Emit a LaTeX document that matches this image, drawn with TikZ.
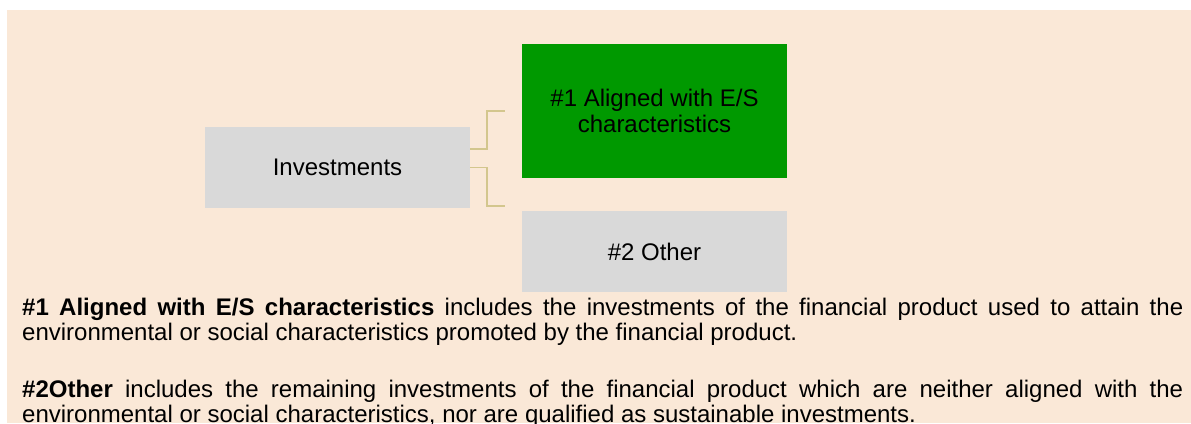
\documentclass[tikz,border=0pt]{standalone}
\usepackage{fontspec}
\setmainfont{Liberation Sans}
\usetikzlibrary{calc}
\definecolor{bgbeige}{HTML}{FAE8D7}
\definecolor{boxgray}{HTML}{D9D9D9}
\definecolor{boxgreen}{HTML}{009900}
\definecolor{conncol}{HTML}{D3C68D}
\hyphenpenalty=10000
\exhyphenpenalty=10000
\tolerance=9999
\tikzset{
  boxbase/.style={inner sep=0pt, minimum width=265bp, align=center,
    font=\fontsize{24bp}{26bp}\selectfont, text=black},
  graybox/.style={boxbase, fill=boxgray},
  greenbox/.style={boxbase, fill=boxgreen},
  conn/.style={draw=conncol, line width=1.5bp},
  para/.style={inner sep=0pt, anchor=base west, text width=1161bp, align=justify,
    font=\fontsize{24bp}{25bp}\selectfont}
}
\begin{document}
\hyphenpenalty=10000
\tolerance=9999
\begin{tikzpicture}[x=1bp,y=-1bp]
\useasboundingbox (0,0) rectangle (1191,423);
\fill[bgbeige] (7,10) rectangle (1191,423);
\node[graybox, minimum height=81bp] (inv) at (337.5,167.5) {Investments};
\node[greenbox, minimum height=134bp] (al) at (654.5,111) {\#1 Aligned with E/S\\characteristics};
\node[graybox, minimum height=81bp] (oth) at (654.5,251.5) {\#2 Other};
\coordinate (a1) at (505,111);
\coordinate (o1) at (505,206);
\draw[conn] ($(inv.east)+(0,-18.5)$) -- ++(17,0) |- (a1);
\draw[conn] (inv.east) -- ++(17,0) |- (o1);
\node[para] (p1) at (22,315) {\textbf{\#1 Aligned with E/S characteristics} includes the investments of the financial product used to attain the environmental or social characteristics promoted by the financial product.\par};
\node[para] (p2) at (22,397) {\textbf{\#2Other} includes the remaining investments of the financial product which are neither aligned with the environmental or social characteristics, nor are qualified as sustainable investments.\par};
\end{tikzpicture}
\end{document}
